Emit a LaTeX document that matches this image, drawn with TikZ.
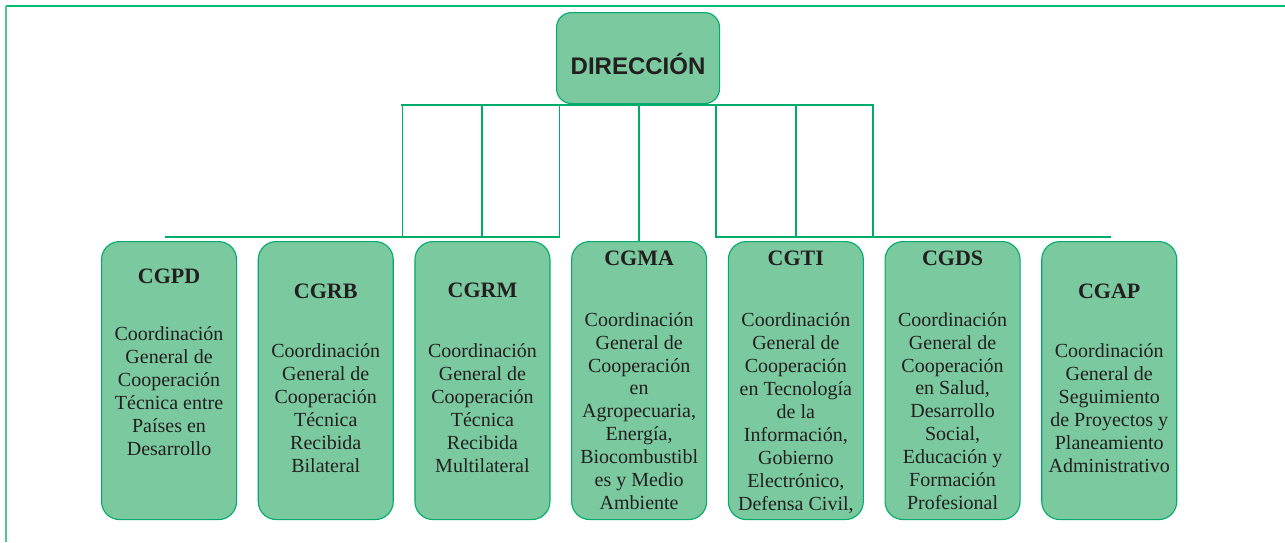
\documentclass[tikz,border=0pt]{standalone}
\usepackage{fontspec}
\setmainfont{Liberation Serif}
\newfontfamily\dirfont{Liberation Sans}
\usetikzlibrary{positioning}
\definecolor{boxgreen}{RGB}{123,201,159}
\definecolor{linegreen}{RGB}{0,172,105}
\definecolor{framegreen}{RGB}{0,190,112}
\definecolor{sidegreen}{RGB}{80,200,150}
\definecolor{inkgray}{RGB}{35,31,32}

\begin{document}
\begin{tikzpicture}[x=1pt, y=-1pt,
  unidad/.style={draw=linegreen, fill=boxgreen, line width=1.1pt, rounded corners=18pt,
    minimum width=135pt, minimum height=278pt, inner sep=0pt},
  sigla/.style={text=inkgray, font=\fontsize{22}{24}\selectfont\bfseries, inner sep=0pt},
  nombre/.style={text=inkgray, font=\fontsize{20}{22.9}\selectfont, align=center, inner sep=0pt},
  barra/.style={draw=linegreen, line width=2.2pt, line cap=rect},
  tallo/.style={draw=linegreen, line width=1.6pt, line cap=rect}]
  \useasboundingbox (0,0) rectangle (1285,542);
  \draw[framegreen, line width=1.4pt] (6,6) -- (1285,6);
  \draw[sidegreen, line width=2pt] (6,6) -- (6,542);

  \node[unidad, rounded corners=15pt, minimum width=163pt, minimum height=91pt, anchor=north west] (dir) at (556,12) {};
  \node[font=\dirfont\fontsize{24}{26}\selectfont\bfseries, text=inkgray, inner sep=0pt] (dirtext) at ([yshift=-6pt]dir.center) {DIRECCIÓN};

  \node[unidad, anchor=north west] (cgpd) at (101,241) {};
  \node[unidad, right=20.6pt of cgpd] (cgrb) {};
  \node[unidad, right=20.6pt of cgrb] (cgrm) {};
  \node[unidad, right=20.6pt of cgrm] (cgma) {};
  \node[unidad, right=20.6pt of cgma] (cgti) {};
  \node[unidad, right=20.6pt of cgti] (cgds) {};
  \node[unidad, right=20.6pt of cgds] (cgap) {};

  \node[sigla] (cgpdsig) at ([yshift=-35pt]cgpd.north) {CGPD};
  \node[nombre] (cgpdnom) at ([yshift=-150pt]cgpd.north)
    {Coordinación\\General de\\Cooperación\\Técnica entre\\Países en\\Desarrollo};
  \node[sigla] (cgrbsig) at ([yshift=-50pt]cgrb.north) {CGRB};
  \node[nombre] (cgrbnom) at ([yshift=-167pt]cgrb.north)
    {Coordinación\\General de\\Cooperación\\Técnica\\Recibida\\Bilateral};
  \node[sigla] (cgrmsig) at ([yshift=-49pt]cgrm.north) {CGRM};
  \node[nombre] (cgrmnom) at ([yshift=-167pt]cgrm.north)
    {Coordinación\\General de\\Cooperación\\Técnica\\Recibida\\Multilateral};
  \node[sigla] (cgmasig) at ([yshift=-17pt]cgma.north) {CGMA};
  \node[nombre] (cgmanom) at ([yshift=-170pt]cgma.north)
    {Coordinación\\General de\\Cooperación\\en\\Agropecuaria,\\Energía,\\Biocombustibl\\es y Medio\\Ambiente};
  \node[sigla] (cgtisig) at ([yshift=-17pt]cgti.north) {CGTI};
  \node[nombre] (cgtinom) at ([yshift=-172pt]cgti.north)
    {Coordinación\\General de\\Cooperación\\en Tecnología\\de la\\Información,\\Gobierno\\Electrónico,\\Defensa Civil,};
  \node[sigla] (cgdssig) at ([yshift=-17pt]cgds.north) {CGDS};
  \node[nombre] (cgdsnom) at ([yshift=-170pt]cgds.north)
    {Coordinación\\General de\\Cooperación\\en Salud,\\Desarrollo\\Social,\\Educación y\\Formación\\Profesional};
  \node[sigla] (cgapsig) at ([yshift=-50pt]cgap.north) {CGAP};
  \node[nombre] (cgapnom) at ([yshift=-167pt]cgap.north)
    {Coordinación\\General de\\Seguimiento\\de Proyectos y\\Planeamiento\\Administrativo};

  \coordinate (barizq) at (402.5,104.7);
  \coordinate (barder) at (872.7,104.7);
  \draw[barra] (barizq) -- (barder);
  \foreach \x [count=\i] in {402.5,481.7,559.3,716,795.7,872.7} {
    \coordinate (arriba\i) at (\x,104.7);
    \coordinate (abajo\i) at (\x,236.7);
    \draw[tallo] (arriba\i) -- (abajo\i);
  }
  \draw[tallo] (cgma.north |- dir.south) -- (cgma.north);
  \coordinate (finizq) at (166,236.7);
  \coordinate (finder) at (1110,236.7);
  \draw[barra] (finizq) -- (abajo3);
  \draw[barra] (abajo4) -- (finder);
\end{tikzpicture}
\end{document}
